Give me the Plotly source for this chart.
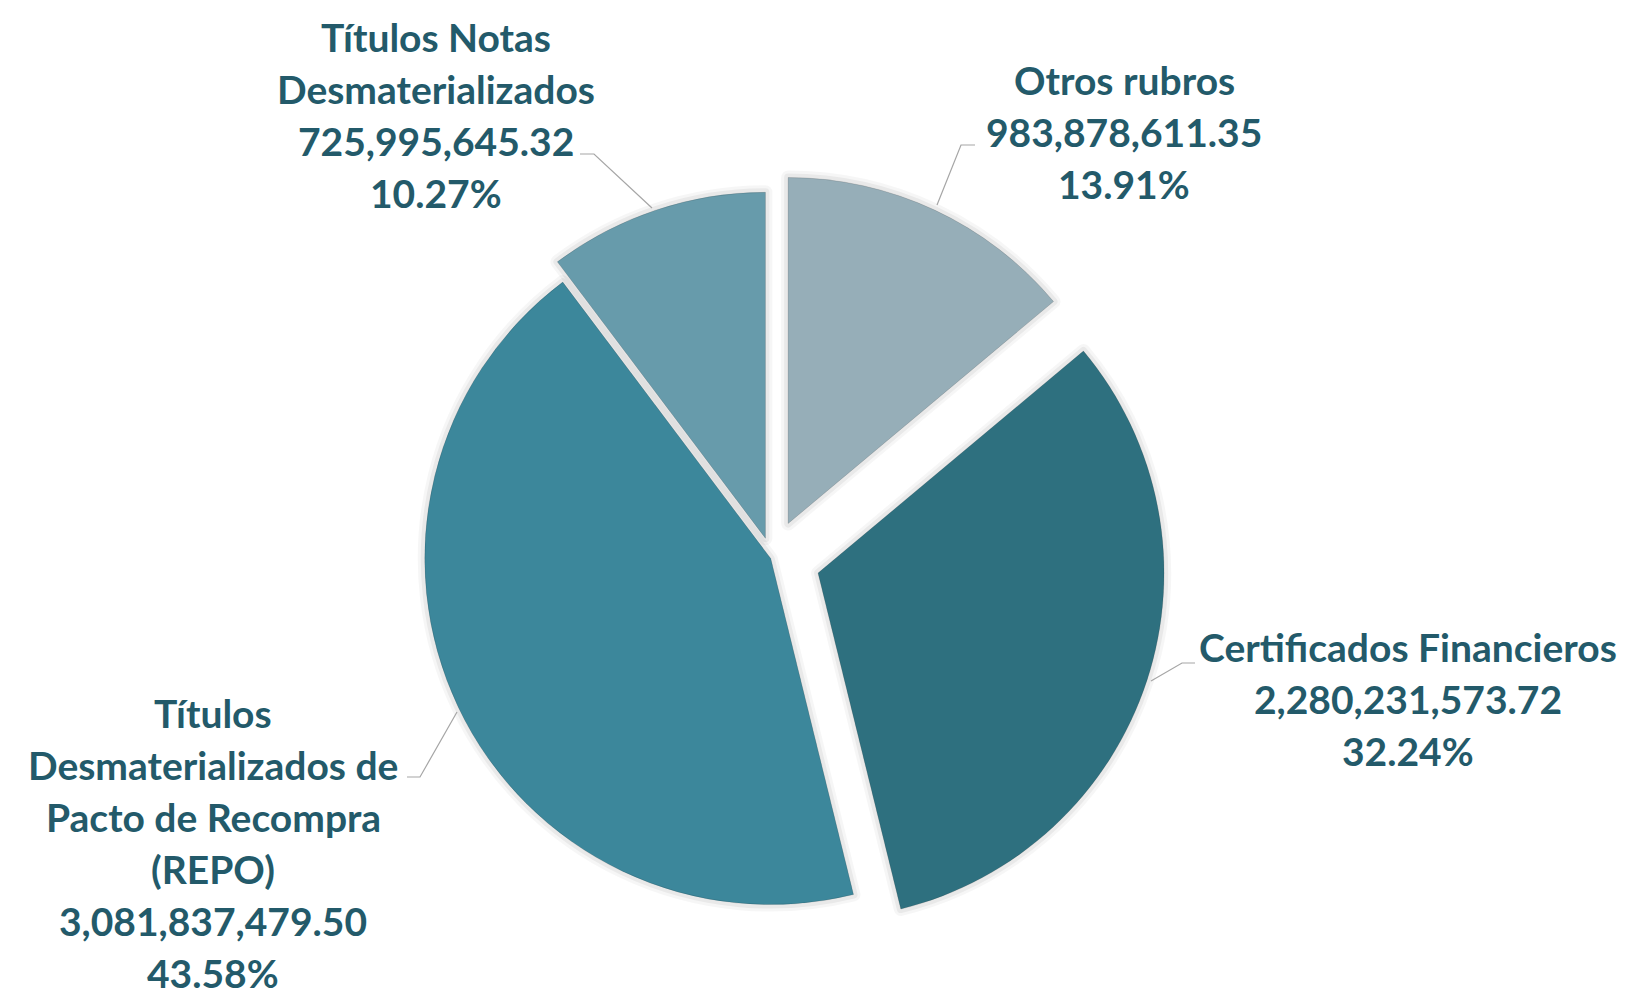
import plotly.graph_objects as go

# Portfolio composition (amounts and shares), clockwise from 12 o'clock
categories = [
    "Otros rubros",
    "Certificados Financieros",
    "Títulos Desmaterializados de Pacto de Recompra (REPO)",
    "Títulos Notas Desmaterializados",
]
amounts = [983878611.35, 2280231573.72, 3081837479.50, 725995645.32]
shares = ["13.91%", "32.24%", "43.58%", "10.27%"]

# Label text split over lines
label_lines = [
    ["Otros rubros"],
    ["Certificados Financieros"],
    ["Títulos", "Desmaterializados de", "Pacto de Recompra", "(REPO)"],
    ["Títulos Notas", "Desmaterializados"],
]

colors = ["#96aeb8", "#2e707f", "#3c879b", "#679bab"]
pulls = [0.11, 0.14, 0.004, 0.06]
text_color = "#235a6a"
font_family = "Lato, 'Open Sans', sans-serif"

W, H = 1629, 996
cx, cy = 772, 558          # pie centre in pixels
radius = 346
half = radius * (1 + max(pulls))
domain = dict(
    x=[(cx - half) / W, (cx + half) / W],
    y=[1 - (cy + half) / H, 1 - (cy - half) / H],
)

fig = go.Figure()

# soft halo under the slices
for lw, col in [(14, "rgba(0,0,0,0.035)"), (8, "rgba(0,0,0,0.05)")]:
    fig.add_trace(go.Pie(
        values=amounts, labels=categories, sort=False, direction="clockwise",
        rotation=0, pull=pulls, domain=domain, textinfo="none",
        hoverinfo="skip",
        marker=dict(colors=["rgba(0,0,0,0.05)"] * 4, line=dict(color=col, width=lw)),
    ))

fig.add_trace(go.Pie(
    values=amounts, labels=categories, sort=False, direction="clockwise",
    rotation=0, pull=pulls, domain=domain, textinfo="none",
    hovertemplate="%{label}<br>%{value:,.2f}<br>%{percent}<extra></extra>",
    marker=dict(colors=colors, line=dict(color="rgba(0,0,0,0.12)", width=1)),
))

# label block centres (pixels) and line spacing
label_pos = [(1124, 132), (1408, 699), (213, 843), (436, 115)]
line_gap = 52

annotations = []
for i, (x, yc) in enumerate(label_pos):
    lines = label_lines[i] + [f"{amounts[i]:,.2f}", shares[i]]
    n = len(lines)
    for k, t in enumerate(lines):
        y = yc + (k - (n - 1) / 2) * line_gap
        annotations.append(dict(
            x=x / W, y=1 - y / H, xref="paper", yref="paper",
            text=t, showarrow=False, xanchor="center", yanchor="middle",
            font=dict(family=font_family, size=39, color=text_color, weight="bold"),
        ))

# leader lines from slices to labels
leaders = [
    [(937, 205), (961, 145), (975, 145)],
    [(1151, 681), (1182, 663), (1195, 663)],
    [(457, 712), (420, 777), (407, 777)],
    [(652, 208), (594, 154), (580, 154)],
]
shapes = []
for pts in leaders:
    path = "M " + " L ".join(f"{x / W},{1 - y / H}" for x, y in pts)
    shapes.append(dict(type="path", path=path, xref="paper", yref="paper",
                       line=dict(color="#a6a6a6", width=1.2)))

fig.update_layout(
    width=W, height=H,
    margin=dict(l=0, r=0, t=0, b=0),
    paper_bgcolor="white", plot_bgcolor="white",
    showlegend=False,
    annotations=annotations,
    shapes=shapes,
)

fig.write_html("out.html")
